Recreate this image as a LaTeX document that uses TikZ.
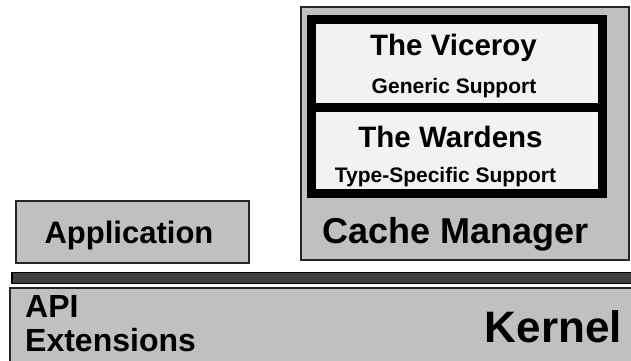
\documentclass[tikz,border=0pt]{standalone}
\usepackage{fontspec}
\setmainfont{Liberation Sans}
\usetikzlibrary{positioning}

\definecolor{panelgrey}{HTML}{C0C0C0}
\definecolor{slotgrey}{HTML}{F2F2F2}
\definecolor{busgrey}{HTML}{404040}

\tikzset{
  layer/.style={draw=black!85, line width=1.2pt, fill=panelgrey, inner sep=0pt},
  slot/.style={fill=slotgrey, draw=none, inner sep=0pt},
  frame/.style={fill=black, draw=none, inner sep=0pt},
  bus/.style={draw=black, line width=1.2pt, fill=busgrey, inner sep=0pt},
  label/.style={inner sep=0pt, anchor=base},
  fs/.style={font=\bfseries\fontsize{#1}{#1}\selectfont}
}

\begin{document}
\begin{tikzpicture}[x=1pt, y=-1pt]
\clip (0,0) rectangle (631,360);
\fill[white] (0,0) rectangle (631,360);

% cache manager and its parts
\node[layer, minimum width=328pt, minimum height=253pt] (cache) at (465,133.5) {};
\node[frame, minimum width=300pt, minimum height=183pt] (ring) at (457,106.5) {};
\node[slot, minimum width=282pt, minimum height=79pt] (viceroy) at (457,63.5) {};
\node[slot, minimum width=282pt, minimum height=77pt] (wardens) at (457,150.5) {};

\node[label, fs=29.5] (vtitle) at (453.5,55) {The Viceroy};
\node[label, fs=21] (vsub) at (454,93) {Generic Support};
\node[label, fs=29.5] (wtitle) at (450.5,147) {The Wardens};
\node[label, fs=21] (wsub) at (445.5,182) {Type-Specific Support};
\node[label, fs=36] (cmtext) at (456,243) {Cache Manager};

% application
\node[layer, minimum width=233pt, minimum height=62pt] (app) at (132.5,232) {};
\node[label, fs=31] (apptext) at (129,243) {Application};

% bus and kernel
\node[bus, minimum width=640pt, minimum height=11pt] (busbar) at (332,278) {};
\node[layer, minimum width=640pt, minimum height=90pt] (kernel) at (330,333) {};

\node[label, fs=32, anchor=base west] (api) at (25,317) {API};
\node[label, fs=32, anchor=base west] (ext) at (25,351) {Extensions};
\node[label, fs=44, anchor=base east] (ktext) at (622,342) {Kernel};
\end{tikzpicture}
\end{document}
